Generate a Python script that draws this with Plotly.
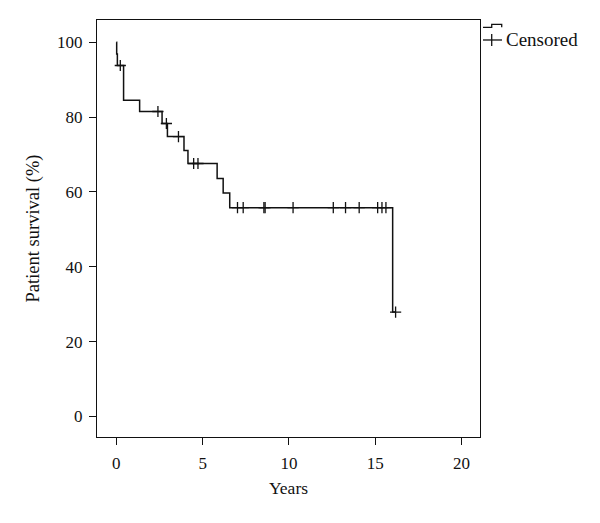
import plotly.graph_objects as go

# Kaplan-Meier step curve (years, survival %)
step_years = [0, 0.02, 0.06, 0.42, 1.35, 2.65, 2.96, 3.92, 4.15, 5.84, 6.19, 6.57, 16.01, 16.18]
step_surv = [100, 96.9, 93.8, 84.5, 81.5, 78.3, 74.8, 71.1, 67.6, 63.6, 59.7, 55.8, 27.9, 27.9]

# censored observations
cens_years = [0.23, 2.41, 2.9, 3.6, 4.48, 4.73, 7.02, 7.35, 8.55, 8.62, 10.24,
              12.57, 13.28, 14.07, 15.14, 15.39, 15.62, 16.18]
cens_surv = [93.8, 81.5, 78.3, 74.8, 67.6, 67.6, 55.8, 55.8, 55.8, 55.8, 55.8,
             55.8, 55.8, 55.8, 55.8, 55.8, 55.8, 27.9]

x_ticks = [0, 5, 10, 15, 20]
y_ticks = [0, 20, 40, 60, 80, 100]

FONT = "Liberation Serif, Times New Roman, serif"
INK = "#111111"

fig = go.Figure()
fig.add_trace(go.Scatter(
    x=step_years, y=step_surv, mode="lines", line_shape="hv",
    line=dict(color=INK, width=1.5), showlegend=False, hoverinfo="skip",
))
fig.add_trace(go.Scatter(
    x=cens_years, y=cens_surv, mode="markers",
    marker=dict(symbol="cross-thin", size=8, line=dict(color=INK, width=1.3)),
    showlegend=False, name="Censored",
))

# plot box in screen pixels (page has an 8px body margin)
L, R, T, B = 97.3, 480.0, 20.0, 437.3
OFF = 8


def px(x):
    return (x - L) / (R - L)


def py(y):
    return (B - y) / (B - T)


legend_line = dict(color=INK, width=1.3)
bracket = [(483, 27.3), (491.7, 27.3), (491.7, 24.3), (501.7, 24.3), (501.7, 27.3)]
path = "M " + " L ".join(f"{px(a):.4f},{py(b):.4f}" for a, b in bracket)
shapes = [
    dict(type="path", xref="paper", yref="paper", path=path, line=legend_line),
    dict(type="line", xref="paper", yref="paper", x0=px(483), x1=px(502),
         y0=py(40), y1=py(40), line=legend_line),
    dict(type="line", xref="paper", yref="paper", x0=px(491.7), x1=px(491.7),
         y0=py(34), y1=py(46), line=legend_line),
]

ml = round(L - OFF)
mt = round(T - OFF)
pw = round(R - L)
ph = round(B - T)

fig.update_layout(
    width=600, height=523,
    margin=dict(l=ml, r=600 - ml - pw, t=mt, b=523 - mt - ph, autoexpand=False),
    paper_bgcolor="white", plot_bgcolor="white",
    font=dict(family=FONT, color=INK, size=16),
    shapes=shapes,
    annotations=[dict(
        text="Censored", xref="paper", yref="paper", x=px(504), y=py(40),
        xanchor="left", yanchor="middle", showarrow=False,
        font=dict(family=FONT, size=19, color=INK),
    )],
)
fig.update_xaxes(
    range=[-1.12, 21.07], tickvals=x_ticks, ticks="outside", ticklen=7,
    tickwidth=1.2, tickcolor=INK, showline=True, linecolor=INK, linewidth=1.3,
    mirror=True, showgrid=False, zeroline=False,
    title=dict(text="Years", font=dict(size=17.5), standoff=10),
    tickfont=dict(size=17), ticklabelstandoff=3,
)
fig.update_yaxes(
    range=[-5.5, 105.96], tickvals=y_ticks, ticks="outside", ticklen=7,
    tickwidth=1.2, tickcolor=INK, showline=True, linecolor=INK, linewidth=1.3,
    mirror=True, showgrid=False, zeroline=False,
    title=dict(text="Patient survival (%)", font=dict(size=18.5), standoff=12),
    tickfont=dict(size=17), ticklabelstandoff=3,
)

fig.write_html("out.html")
